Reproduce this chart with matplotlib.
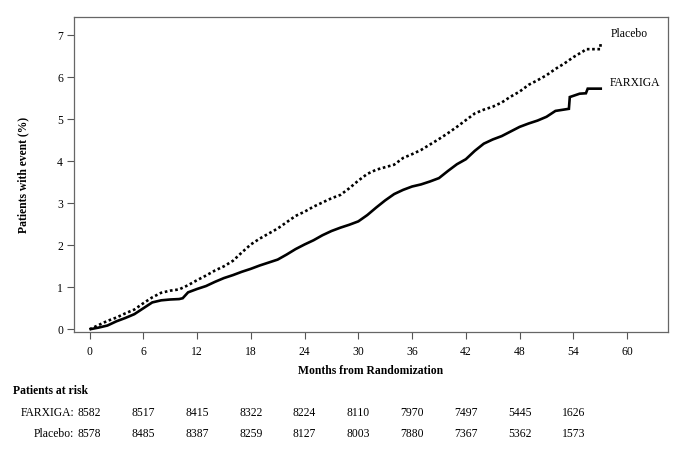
import matplotlib
matplotlib.use("Agg")
import matplotlib.pyplot as plt
import matplotlib.transforms as mtransforms

# ---- data ----
months_placebo = [0, 1, 2, 3, 4, 5, 6, 7, 8, 9, 10, 11, 12, 13, 14, 15, 16, 17,
                  18, 19, 20, 21, 22, 23, 24, 25, 26, 27, 28, 29, 30, 31, 32, 33,
                  34, 35, 36, 37, 38, 39, 40, 41, 42, 43, 44, 45, 46, 47, 48, 49,
                  50, 51, 52, 53, 54, 55.1, 55.4, 57.0, 57.05]
placebo = [0.0, 0.10, 0.20, 0.28, 0.38, 0.47, 0.62, 0.76, 0.87, 0.92, 0.95, 1.05,
           1.17, 1.28, 1.40, 1.50, 1.63, 1.83, 2.02, 2.16, 2.28, 2.40, 2.55, 2.70,
           2.80, 2.92, 3.02, 3.12, 3.20, 3.36, 3.54, 3.70, 3.80, 3.86, 3.92, 4.08,
           4.17, 4.27, 4.40, 4.53, 4.67, 4.82, 4.98, 5.14, 5.23, 5.30, 5.40, 5.54,
           5.66, 5.82, 5.93, 6.05, 6.20, 6.33, 6.48, 6.62, 6.67, 6.67, 6.83]

months_farxiga = [0, 1, 2, 3, 4, 5, 6, 7, 8, 9, 10, 10.4, 11, 12, 13, 14, 15, 16,
                  17, 18, 19, 20, 21, 22, 23, 24, 25, 26, 27, 28, 29, 30, 31, 32,
                  33, 34, 35, 36, 37, 38, 39, 40, 41, 42, 43, 44, 45, 46, 47, 48,
                  49, 50, 51, 52, 53.5, 53.6, 54.7, 55.4, 55.6, 57.2]
farxiga = [0.0, 0.04, 0.09, 0.19, 0.27, 0.36, 0.50, 0.64, 0.69, 0.71, 0.72, 0.74,
           0.88, 0.96, 1.03, 1.13, 1.22, 1.29, 1.37, 1.44, 1.52, 1.59, 1.66, 1.78,
           1.91, 2.02, 2.12, 2.24, 2.34, 2.42, 2.49, 2.57, 2.72, 2.90, 3.07, 3.22,
           3.32, 3.40, 3.45, 3.52, 3.60, 3.77, 3.93, 4.05, 4.25, 4.42, 4.52, 4.60,
           4.71, 4.82, 4.90, 4.97, 5.06, 5.20, 5.25, 5.53, 5.61, 5.62, 5.73, 5.73]

xticks = [0, 6, 12, 18, 24, 30, 36, 42, 48, 54, 60]
yticks = [0, 1, 2, 3, 4, 5, 6, 7]
risk_times = [0, 6, 12, 18, 24, 30, 36, 42, 48, 54]
risk_farxiga = [8582, 8517, 8415, 8322, 8224, 8110, 7970, 7497, 5445, 1626]
risk_placebo = [8578, 8485, 8387, 8259, 8127, 8003, 7880, 7367, 5362, 1573]

# ---- style ----
plt.rcParams['font.family'] = ['Liberation Serif', 'DejaVu Serif']
FS = 8.4

fig = plt.figure(figsize=(6.93, 4.57), dpi=100)
ax = fig.add_axes([74/693, 1 - 332/457, (668-74)/693, (332-17)/457])

ax.plot(months_farxiga, farxiga, color='black', lw=1.9,
        solid_capstyle='butt', solid_joinstyle='miter')
ax.plot(months_placebo, placebo, color='black', lw=1.9,
        linestyle=(0, (1.0, 1.0)), dash_capstyle='butt')

ax.text(58.2, 7.02, 'Placebo', fontsize=FS, va='center', ha='left')
ax.text(58.1, 5.87, 'FARXIGA', fontsize=FS, va='center', ha='left')

ax.set_xlim(-1.73, 64.56)
ax.set_ylim(-0.064, 7.436)
ax.set_xticks(xticks)
ax.set_yticks(yticks)
ax.tick_params(direction='out', length=5, width=0.8, colors='#555555',
               labelcolor='black', labelsize=FS)
ax.tick_params(axis='x', pad=5)
ax.tick_params(axis='y', pad=3)
for sp in ax.spines.values():
    sp.set_color('#666666')
    sp.set_linewidth(0.9)

ax.set_xlabel('Months from Randomization', fontsize=FS, fontweight='bold',
              labelpad=5)
ax.set_ylabel('Patients with event (%)', fontsize=FS, fontweight='bold',
              labelpad=20)

# ---- risk table ----
trans = mtransforms.blended_transform_factory(ax.transData, fig.transFigure)
fig.text(13/693, 1 - 391/457, 'Patients at risk', fontsize=FS,
         fontweight='bold', ha='left', va='center')
y1 = 1 - 413/457
y2 = 1 - 434/457
fig.text(74/693, y1, 'FARXIGA:', fontsize=FS, ha='right', va='center')
fig.text(74/693, y2, 'Placebo:', fontsize=FS, ha='right', va='center')
for t, a, b in zip(risk_times, risk_farxiga, risk_placebo):
    ax.text(t, y1, str(a), transform=trans, fontsize=FS, ha='center',
            va='center', clip_on=False)
    ax.text(t, y2, str(b), transform=trans, fontsize=FS, ha='center',
            va='center', clip_on=False)

fig.savefig('out.png', dpi=100)
